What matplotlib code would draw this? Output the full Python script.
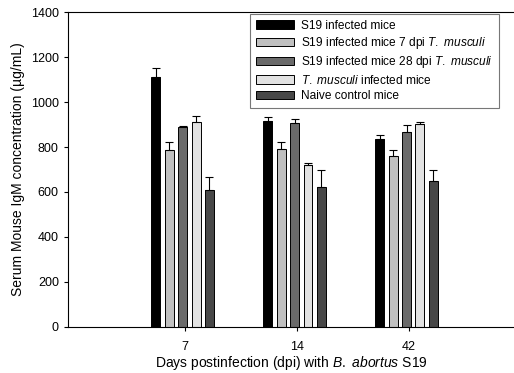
import matplotlib
matplotlib.use('Agg')
import matplotlib.pyplot as plt
import numpy as np

plt.rcParams['font.family'] = ['Liberation Sans', 'DejaVu Sans']
plt.rcParams['mathtext.fontset'] = 'custom'
plt.rcParams['mathtext.rm'] = 'Liberation Sans'
plt.rcParams['mathtext.it'] = 'Liberation Sans:italic'

days = ['7', '14', '42']
series = ['S19 infected mice',
          r'S19 infected mice 7 dpi $\it{T.}$ $\it{musculi}$',
          r'S19 infected mice 28 dpi $\it{T.}$ $\it{musculi}$',
          r'$\it{T.}$ $\it{musculi}$ infected mice',
          'Naive control mice']
colors = ['#000000', '#c0c0c0', '#6a6a6a', '#e2e2e2', '#474747']

s19 = [1113, 918, 836]
s19_7dpi = [785, 790, 761]
s19_28dpi = [888, 908, 868]
tmusculi = [911, 720, 904]
naive = [610, 620, 650]
values = [s19, s19_7dpi, s19_28dpi, tmusculi, naive]

s19_err = [40, 17, 16]
s19_7dpi_err = [37, 32, 25]
s19_28dpi_err = [8, 18, 29]
tmusculi_err = [28, 9, 8]
naive_err = [56, 79, 48]
errors = [s19_err, s19_7dpi_err, s19_28dpi_err, tmusculi_err, naive_err]

fig = plt.figure(figsize=(5.14, 3.73), dpi=100)
ax = fig.add_axes([0.132, 0.124, 0.868, 0.843])

x = np.arange(len(days))
step = 0.12
width = 0.08
for i in range(5):
    pos = x + (i - 2) * step - 0.02
    err = [np.zeros(3), errors[i]]
    ax.bar(pos, values[i], width=width, color=colors[i], edgecolor='black',
           linewidth=0.7, label=series[i], yerr=err,
           error_kw=dict(ecolor='black', elinewidth=0.8, capsize=3, capthick=0.8))

ax.set_xlim(-1.045, 2.94)
ax.set_ylim(0, 1400)
ax.set_xticks(x)
ax.set_xticklabels(days)
ax.set_yticks(range(0, 1401, 200))
ax.tick_params(labelsize=9, direction='out', length=3, width=0.8)
ax.tick_params(axis='x', pad=7)
ax.spines['right'].set_visible(False)
for s in ['top', 'left', 'bottom']:
    ax.spines[s].set_linewidth(0.8)

ax.set_ylabel('Serum Mouse IgM concentration (µg/mL)', fontsize=10)
ax.set_xlabel(r'Days postinfection (dpi) with $\it{B.}$ $\it{abortus}$ S19', fontsize=10, labelpad=1)

leg = ax.legend(loc='upper right', bbox_to_anchor=(0.966, 0.996), fontsize=8.6,
                frameon=True, fancybox=False, edgecolor='#555555', borderaxespad=0,
                handlelength=3.2, handleheight=0.7, labelspacing=0.28,
                borderpad=0.5, handletextpad=0.6)
leg.get_frame().set_linewidth(0.8)

fig.savefig('out.png', dpi=100)
